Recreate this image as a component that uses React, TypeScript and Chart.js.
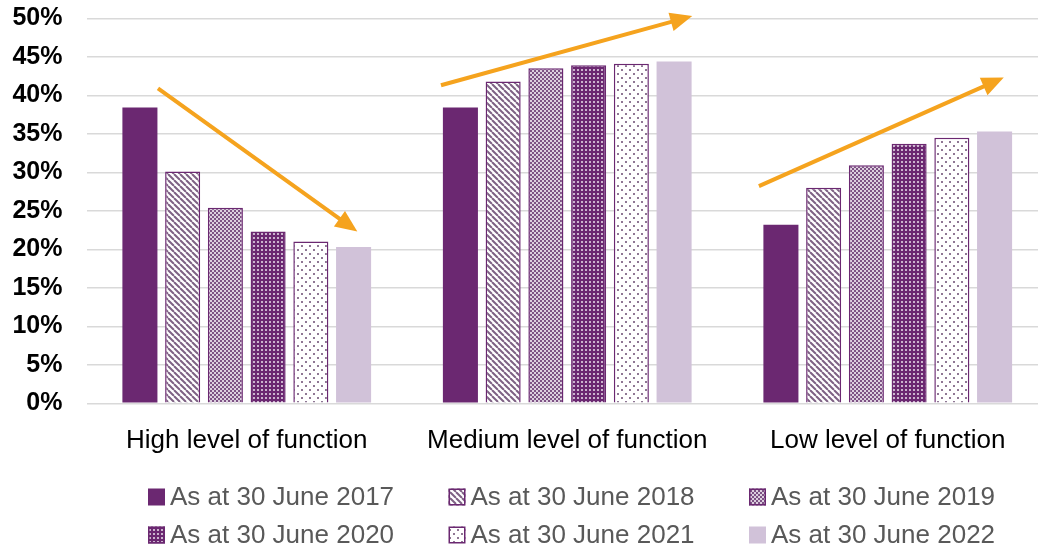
import React, { useEffect, useRef } from 'react';
import { Chart, registerables } from 'chart.js';

Chart.register(...registerables);

// ---------- data ----------
const categories = ['High level of function', 'Medium level of function', 'Low level of function'];
const seriesLabels = [
  'As at 30 June 2017',
  'As at 30 June 2018',
  'As at 30 June 2019',
  'As at 30 June 2020',
  'As at 30 June 2021',
  'As at 30 June 2022',
];
const values2017 = [38.4, 38.4, 23.2];
const values2018 = [30.1, 41.8, 28.0];
const values2019 = [25.4, 43.5, 30.9];
const values2020 = [22.3, 43.9, 33.7];
const values2021 = [21.0, 44.1, 34.5];
const values2022 = [20.3, 44.4, 35.3];
const yTickValues = [0, 5, 10, 15, 20, 25, 30, 35, 40, 45, 50];
// trend arrows in data units: [category position start, % start, category position end, % end]
const trendArrows = [
  [-0.277, 40.9, 0.345, 22.3],
  [0.606, 41.3, 1.39, 50.3],
  [1.598, 28.2, 2.362, 42.3],
];

const PURPLE = '#6B2871';
const LILAC = '#D1C2D9';
const ORANGE = '#F5A31E';

type PatternKind = 'solid' | 'stripes' | 'checker' | 'grid' | 'dots' | 'light';
const seriesKinds: PatternKind[] = ['solid', 'stripes', 'checker', 'grid', 'dots', 'light'];

function makeFill(ctx: CanvasRenderingContext2D, kind: PatternKind): string | CanvasPattern {
  if (kind === 'solid') return PURPLE;
  if (kind === 'light') return LILAC;
  const tile = document.createElement('canvas');
  let size = 4;
  if (kind === 'stripes') size = 6;
  if (kind === 'dots') size = 8;
  tile.width = size;
  tile.height = size;
  const g = tile.getContext('2d')!;
  if (kind === 'stripes') {
    g.fillStyle = '#ffffff';
    g.fillRect(0, 0, size, size);
    g.strokeStyle = '#7e6184';
    g.lineWidth = 2;
    for (const x0 of [-size, 0, size]) {
      g.beginPath();
      g.moveTo(x0, 0);
      g.lineTo(x0 + size, size);
      g.stroke();
    }
  } else if (kind === 'checker') {
    g.fillStyle = '#dccfde';
    g.fillRect(0, 0, size, size);
    g.fillStyle = '#7d5284';
    g.fillRect(0, 0, 2, 2);
    g.fillRect(2, 2, 2, 2);
  } else if (kind === 'grid') {
    g.fillStyle = PURPLE;
    g.fillRect(0, 0, size, size);
    g.fillStyle = '#cbb4ce';
    g.fillRect(1, 1, 2, 2);
  } else if (kind === 'dots') {
    g.fillStyle = '#ffffff';
    g.fillRect(0, 0, size, size);
    g.fillStyle = '#8f7794';
    g.fillRect(1, 1, 2, 2);
    g.fillRect(5, 5, 2, 2);
  }
  return ctx.createPattern(tile, 'repeat') as CanvasPattern;
}

const arrowPlugin = {
  id: 'trendArrows',
  afterDatasetsDraw(chart: any) {
    const { ctx, scales } = chart;
    const xs = scales.x;
    const ys = scales.y;
    const base = xs.getPixelForValue(0);
    const step = xs.getPixelForValue(1) - base;
    ctx.save();
    ctx.strokeStyle = ORANGE;
    ctx.fillStyle = ORANGE;
    ctx.lineWidth = 4;
    for (const [xa, ya, xb, yb] of trendArrows) {
      const x0 = base + xa * step;
      const y0 = ys.getPixelForValue(ya);
      const x1 = base + xb * step;
      const y1 = ys.getPixelForValue(yb);
      const ang = Math.atan2(y1 - y0, x1 - x0);
      const headLen = 22;
      const headHalf = 9.5;
      const bx = x1 - headLen * Math.cos(ang);
      const by = y1 - headLen * Math.sin(ang);
      ctx.beginPath();
      ctx.moveTo(x0, y0);
      ctx.lineTo(bx + 2 * Math.cos(ang), by + 2 * Math.sin(ang));
      ctx.stroke();
      ctx.beginPath();
      ctx.moveTo(x1, y1);
      ctx.lineTo(bx + headHalf * Math.sin(ang), by - headHalf * Math.cos(ang));
      ctx.lineTo(bx - headHalf * Math.sin(ang), by + headHalf * Math.cos(ang));
      ctx.closePath();
      ctx.fill();
    }
    ctx.restore();
  },
};

// legend layout (positions only)
const LEGEND_X0 = 148;
const LEGEND_PITCH = 300.5;
const LEGEND_ROWS_Y = [497, 535];
const LEGEND_BOX = 17;

const legendPlugin = {
  id: 'gridLegend',
  afterDraw(chart: any) {
    const { ctx } = chart;
    ctx.save();
    chart.data.datasets.forEach((ds: any, i: number) => {
      const col = i % 3;
      const row = Math.floor(i / 3);
      const x = LEGEND_X0 + col * LEGEND_PITCH;
      const yc = LEGEND_ROWS_Y[row];
      const top = yc - LEGEND_BOX / 2;
      ctx.fillStyle = ds.backgroundColor;
      ctx.fillRect(x, top, LEGEND_BOX, LEGEND_BOX);
      if (ds.borderWidth > 0) {
        ctx.strokeStyle = ds.borderColor;
        ctx.lineWidth = 1.5;
        ctx.strokeRect(x + 0.75, top + 0.75, LEGEND_BOX - 1.5, LEGEND_BOX - 1.5);
      }
      ctx.fillStyle = '#595959';
      ctx.font = '26px "Liberation Sans", Arial, sans-serif';
      ctx.textBaseline = 'middle';
      ctx.textAlign = 'left';
      ctx.fillText(ds.label, x + LEGEND_BOX + 5, yc + 1);
    });
    ctx.restore();
  },
};

export default function App() {
  const canvasRef = useRef<HTMLCanvasElement | null>(null);

  useEffect(() => {
    const canvas = canvasRef.current!;
    const ctx = canvas.getContext('2d')!;
    const seriesValues = [values2017, values2018, values2019, values2020, values2021, values2022];
    const datasets = seriesValues.map((vals, i) => {
      const kind = seriesKinds[i];
      const bordered = kind !== 'solid' && kind !== 'light';
      return {
        label: seriesLabels[i],
        data: vals,
        backgroundColor: makeFill(ctx, kind),
        borderColor: PURPLE,
        borderWidth: bordered ? 1.5 : 0,
        categoryPercentage: 0.8,
        barPercentage: 0.82,
      };
    });

    const chart = new Chart(canvas, {
      type: 'bar',
      data: { labels: categories, datasets },
      options: {
        responsive: false,
        animation: false,
        devicePixelRatio: 1,
        layout: { padding: { top: 0, right: 14, left: 0, bottom: 0 } },
        plugins: {
          legend: { display: false },
          tooltip: { enabled: false },
        },
        scales: {
          x: {
            grid: { display: false },
            border: { display: false },
            ticks: {
              color: '#000000',
              font: { family: '"Liberation Sans", Arial, sans-serif', size: 26 },
              padding: 14,
              maxRotation: 0,
              autoSkip: false,
            },
            afterFit: (s: any) => {
              s.height = 148.7;
            },
          },
          y: {
            min: 0,
            max: 50,
            grid: { color: '#D9D9D9', lineWidth: 1.5, drawTicks: false },
            border: { display: false },
            afterBuildTicks: (s: any) => {
              s.ticks = yTickValues.map((v) => ({ value: v }));
            },
            ticks: {
              color: '#000000',
              font: { family: '"Liberation Sans", Arial, sans-serif', size: 25, weight: 'bold' },
              padding: 24,
              callback: (v: any) => v + '%',
            },
            afterFit: (s: any) => {
              s.width = 86.5;
              s.paddingTop = 18.3;
              s.paddingBottom = 0;
            },
          },
        },
      },
      plugins: [arrowPlugin, legendPlugin],
    } as any);

    return () => chart.destroy();
  }, []);

  return (
    <div
      style={{
        position: 'absolute',
        left: 0,
        top: 0,
        width: 1038,
        height: 552,
        overflow: 'hidden',
        background: '#ffffff',
      }}
    >
      <canvas ref={canvasRef} width={1062} height={552} style={{ display: 'block' }} />
    </div>
  );
}
